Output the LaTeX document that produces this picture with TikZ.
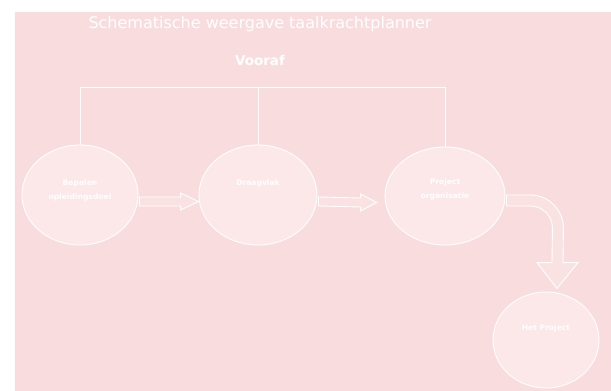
\documentclass[tikz,border=0pt]{standalone}
\usepackage{fontspec}
\setmainfont{DejaVu Sans}
\usetikzlibrary{calc,shapes.geometric}
\definecolor{bgpink}{HTML}{F9DCDD}
\definecolor{elpink}{HTML}{FCE8E9}
\definecolor{arpink}{HTML}{FAE2E3}
\tikzset{
  bubble/.style={ellipse, draw=white, line width=0.9pt, fill=elpink, inner sep=0pt},
  lbl/.style={text=white, font=\fontsize{7.6}{14}\selectfont\bfseries, align=center, inner sep=0pt},
  conn/.style={draw=white, line width=0.9pt},
  barrow/.style={draw=white, line width=0.9pt, fill=arpink, line join=miter},
  ttl/.style={text=white, inner sep=0pt, anchor=base}
}
\begin{document}
\begin{tikzpicture}[x=1pt,y=-1pt]
\useasboundingbox (0,0) rectangle (611,391);
\fill[white] (0,0) rectangle (611,391);
\fill[bgpink] (15,12) rectangle (611,391);
\node[ttl, font=\fontsize{16}{18}\selectfont] (title) at (260,28) {Schematische weergave taalkrachtplanner};
\node[ttl, font=\fontsize{13.5}{15}\selectfont\bfseries] (vooraf) at (260,65) {Vooraf};
\node[bubble, minimum width=116pt, minimum height=100pt,
  label={[lbl, yshift=5pt]center:Bepalen\\opleidingsdoel}] (e1) at (80,195) {};
\node[bubble, minimum width=118pt, minimum height=100pt,
  label={[lbl, yshift=12pt]center:Draagvlak}] (e2) at (258,195) {};
\node[bubble, minimum width=120pt, minimum height=98pt,
  label={[lbl, yshift=7pt]center:Project\\organisatie}] (e3) at (445,196) {};
\node[bubble, minimum width=106pt, minimum height=96pt,
  label={[lbl, yshift=12pt]center:Het Project}] (e4) at (546,340) {};
\coordinate (top) at (259,87);
\draw[conn] (e1.north) |- (e3.north |- top) -- (e3.north);
\draw[conn] (e2.north) -- (e2.north |- top);
% arrow 1
\draw[barrow] ($(e1.east)+(1,2)$) -- ($(e2.west)+(-18,2)$) -- ($(e2.west)+(-18,-2)$)
  -- ($(e2.west)+(0,6.5)$) -- ($(e2.west)+(-18,15)$) -- ($(e2.west)+(-18,11)$)
  -- ($(e1.east)+(1,11)$) -- cycle;
% arrow 2
\draw[barrow] ($(e2.east)+(1,2)$) -- ($(e3.west)+(-24,2)$) -- ($(e3.west)+(-24,-2)$)
  -- ($(e3.west)+(-8,6.5)$) -- ($(e3.west)+(-24,15)$) -- ($(e3.west)+(-24,11)$)
  -- ($(e2.east)+(1,11)$) -- cycle;
% arrow 3
\coordinate (c3) at ($(e3.east)+(25,32)$);
\coordinate (tip) at ($(e4.north)+(11,-3)$);
\draw[barrow] ($(e3.east)+(1,-1)$) -- ($(c3)+(0,-33)$)
  .. controls ($(c3)+(18,-33)$) and ($(c3)+(33,-18)$) .. ($(c3)+(33,0)$)
  -- ($(tip)+(6,-26)$) -- ($(tip)+(21,-26)$) -- (tip) -- ($(tip)+(-20,-26)$) -- ($(tip)+(-5,-26)$)
  -- ($(c3)+(22,0)$)
  .. controls ($(c3)+(22,-12)$) and ($(c3)+(12,-22)$) .. ($(c3)+(0,-22)$)
  -- ($(e3.east)+(1,10)$) -- cycle;
\end{tikzpicture}
\end{document}
